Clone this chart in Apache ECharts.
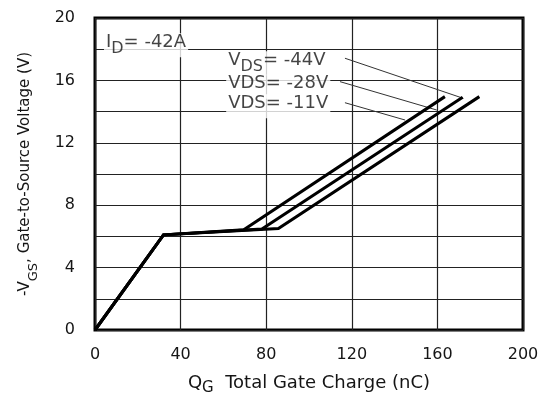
<!DOCTYPE html>
<html><head><meta charset="utf-8">
<script src="https://cdn.jsdelivr.net/npm/echarts@6/dist/echarts.min.js"></script>
<style>html,body{margin:0;padding:0;background:#fff}#c{width:548px;height:394px}</style>
</head><body><div id="c"></div>
<script>
// Gate charge curves (Q in nC, -VGS in V)
const q44 = [0, 32, 69.5, 163.5];
const v44 = [0, 6.1, 6.43, 14.96];
const q28 = [0, 32, 78, 171.8];
const v28 = [0, 6.1, 6.47, 14.92];
const q11 = [0, 32, 85.7, 179.6];
const v11 = [0, 6.1, 6.5, 14.96];
// leader lines from the labels to the curves
const lead44Q = [116.8, 172.1];
const lead44V = [17.42, 14.85];
const lead28Q = [114.5, 159.7];
const lead28V = [15.92, 14.1];
const lead11Q = [116.8, 144.9];
const lead11V = [14.57, 13.46];
// annotations
const annoText = ['{n|I}{s|D}{n|= -42A}', '{n|V}{s|DS}{n|= -44V}', '{n|VDS= -28V}', '{n|VDS= -11V}'];
const annoQ = [4.2, 61.3, 61.3, 61.3];
const annoV = [18.25, 17.1, 15.6, 14.35];
// axes
const xMin = 0, xMax = 200, xStep = 40;
const yMin = 0, yMax = 20, yStep = 2, yLabelStep = 4;

const zip = (a, b) => a.map((x, i) => [x, b[i]]);
const FONT = 'DejaVu Sans';
const TXT = '#151515';
const richStyle = {
  n: {fontFamily: FONT, fontSize: 18, color: TXT, lineHeight: 24, verticalAlign: 'top'},
  s: {fontFamily: FONT, fontSize: 16, color: TXT, lineHeight: 16, verticalAlign: 'bottom'}
};
const curve = (d) => ({type: 'line', data: d, symbol: 'none', lineStyle: {color: '#000', width: 3, join: 'miter'}, z: 3});
const leader = (d) => ({type: 'line', data: d, symbol: 'none', lineStyle: {color: '#333', width: 1}, z: 2});

const series = [
  curve(zip(q44, v44)), curve(zip(q28, v28)), curve(zip(q11, v11)),
  leader(zip(lead44Q, lead44V)), leader(zip(lead28Q, lead28V)), leader(zip(lead11Q, lead11V))
];
annoText.forEach((t, i) => {
  series.push({
    type: 'scatter', symbolSize: 0, data: [[annoQ[i], annoV[i]]], z: 5, silent: true,
    label: {show: true, position: 'right', distance: 0, formatter: t, backgroundColor: '#fff', padding: [0, 2, 0, 2], rich: richStyle}
  });
});

const chart = echarts.init(document.getElementById('c'));
chart.setOption({
  animation: false,
  backgroundColor: '#fff',
  grid: {left: 95, right: 25, top: 18, bottom: 64, outerBoundsMode: 'none', containLabel: false, show: true, borderColor: '#000', borderWidth: 3, backgroundColor: 'transparent'},
  xAxis: {
    type: 'value', min: xMin, max: xMax, interval: xStep,
    axisLine: {show: false}, axisTick: {show: false},
    splitLine: {show: true, lineStyle: {color: '#222', width: 1.2}},
    axisLabel: {margin: 17, fontFamily: FONT, fontSize: 16, color: TXT},
    name: '{n|Q}{s|G}{n|  Total Gate Charge (nC)}', nameLocation: 'middle', nameGap: 44,
    nameTextStyle: {rich: {
      n: {fontFamily: FONT, fontSize: 18, color: TXT, lineHeight: 22, verticalAlign: 'top'},
      s: {fontFamily: FONT, fontSize: 15, color: TXT, lineHeight: 15, verticalAlign: 'bottom'}
    }}
  },
  yAxis: {
    type: 'value', min: yMin, max: yMax, interval: yStep,
    axisLine: {show: false}, axisTick: {show: false},
    splitLine: {show: true, lineStyle: {color: '#222', width: 1.2}},
    axisLabel: {margin: 20, fontFamily: FONT, fontSize: 16, color: TXT, formatter: v => (v % yLabelStep === 0 ? String(v) : '')},
    name: '{n|-V}{s|GS}{n|, Gate-to-Source Voltage (V)}', nameLocation: 'middle', nameGap: 55, nameRotate: 90,
    nameTextStyle: {rich: {
      n: {fontFamily: FONT, fontSize: 15, color: TXT, lineHeight: 22, verticalAlign: 'top'},
      s: {fontFamily: FONT, fontSize: 13, color: TXT, lineHeight: 13, verticalAlign: 'bottom'}
    }}
  },
  series: series
});
</script></body></html>
